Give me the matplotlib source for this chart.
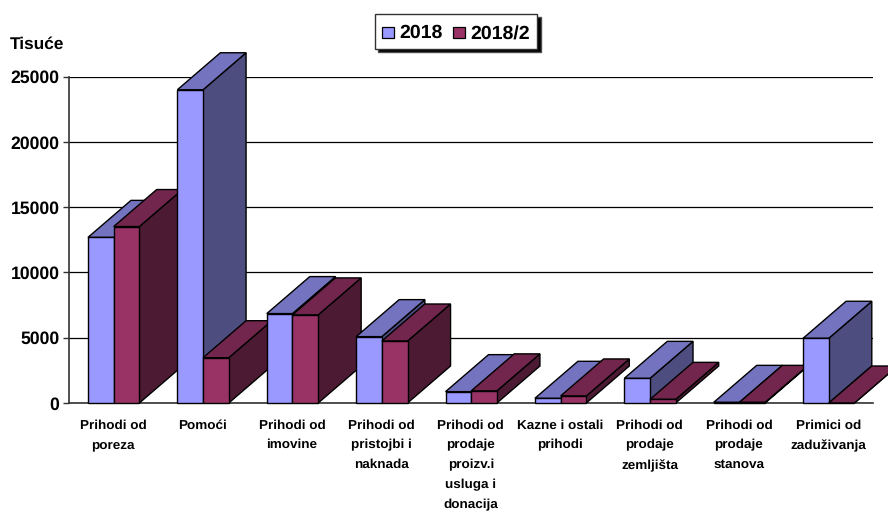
import matplotlib
matplotlib.use("Agg")
import matplotlib.pyplot as plt
from matplotlib.patches import Polygon, Patch, Rectangle
from matplotlib.legend_handler import HandlerPatch

categories = ["Prihodi od\nporeza", "Pomoći", "Prihodi od\nimovine", "Prihodi od\npristojbi i\nnaknada",
              "Prihodi od\nprodaje\nproizv.i\nusluga i\ndonacija", "Kazne i ostali\nprihodi",
              "Prihodi od\nprodaje\nzemljišta", "Prihodi od\nprodaje\nstanova", "Primici od\nzaduživanja"]
values_2018 = [12690, 24000, 6850, 5085, 870, 360, 1890, 50, 4960]
values_2018_2 = [13520, 3470, 6750, 4750, 930, 540, 280, 50, 0]
y_ticks = [0, 5000, 10000, 15000, 20000, 25000]
series_names = ["2018", "2018/2"]

W, H = 888, 511
plt.rcParams["font.family"] = ["Liberation Sans", "DejaVu Sans"]
plt.rcParams["font.weight"] = "bold"
plt.rcParams["text.hinting"] = "no_hinting"
fig = plt.figure(figsize=(W / 100, H / 100), dpi=100, facecolor="white")
L, R, T, B = 68.5, 873, 76.7, 403
ax = fig.add_axes([L / W, 1 - B / H, (R - L) / W, (B - T) / H])
ax.set_xlim(0, 9)
ax.set_ylim(0, 25000)

BAR_W = 0.2875
OFFSET = 0.218
DX = 43 / ((R - L) / 9)
DY = 37 / ((B - T) / 25000)
EDGE = "black"
LW = 1.0
styles = [("#9999FF", "#7373BF", "#4D4D80"), ("#993366", "#73264D", "#4D1A33")]

z = 3
for i in range(len(categories)):
    for s, vals in enumerate([values_2018, values_2018_2]):
        front, top, side = styles[s]
        x0 = i + OFFSET + s * BAR_W
        x1 = x0 + BAR_W
        v = vals[i]
        ax.add_patch(Polygon([(x1, 0), (x1 + DX, DY), (x1 + DX, v + DY), (x1, v)], closed=True,
                             facecolor=side, edgecolor=EDGE, lw=LW, zorder=z, clip_on=False))
        ax.add_patch(Polygon([(x0, v), (x0 + DX, v + DY), (x1 + DX, v + DY), (x1, v)], closed=True,
                             facecolor=top, edgecolor=EDGE, lw=LW, zorder=z, clip_on=False))
        ax.bar(x0, v, width=BAR_W, align="edge", facecolor=front, edgecolor=EDGE, lw=LW, zorder=z + 0.5, clip_on=False)
        z += 1

for sp in ["top", "right"]:
    ax.spines[sp].set_visible(False)
for sp in ["left", "bottom"]:
    ax.spines[sp].set_color("#333333")
    ax.spines[sp].set_linewidth(1.2)
    ax.spines[sp].set_zorder(2)

ax.set_yticks(y_ticks)
ax.set_yticklabels([str(t) for t in y_ticks], fontsize=12.7, fontweight="bold")
ax.tick_params(axis="y", length=4, width=1, color="#333333", pad=2.5)
ax.yaxis.grid(True, color="black", lw=0.9, zorder=1)
ax.set_axisbelow(True)
ax.set_xticks([i + 0.5 for i in range(len(categories))])
ax.set_xticklabels(categories, fontsize=9.7, fontweight="bold", linespacing=1.83, va="top", ha="center")
ax.tick_params(axis="x", length=0, pad=11.5)

fig.text(10 / W, 1 - 44 / H, "Tisuće", fontsize=12.4, fontweight="bold", ha="left", va="center")


def swatch(legend, orig_handle, xdescent, ydescent, width, height, fontsize):
    side_len = width
    return Rectangle((-xdescent, -ydescent + (height - side_len) / 2 - 0.8), side_len, side_len)


handles = [Patch(facecolor=styles[k][0], edgecolor="black", lw=0.9) for k in range(2)]
leg = fig.legend(handles, series_names, ncols=2, loc="upper left",
                 bbox_to_anchor=(375 / W, 1 - 14 / H), bbox_transform=fig.transFigure,
                 prop={"size": 14, "weight": "bold"}, borderaxespad=0, borderpad=0.36,
                 handlelength=0.6, handleheight=1.25, handletextpad=0.29, columnspacing=0.55,
                 handler_map={Patch: HandlerPatch(patch_func=swatch)},
                 fancybox=False, framealpha=1, edgecolor="#333333", facecolor="white",
                 shadow={"ox": 2.4, "oy": -2.4, "facecolor": "black", "alpha": 1})
leg.get_frame().set_linewidth(1.0)
leg.get_texts()[1].set_y(-2)

fig.savefig("out.png", dpi=100, facecolor="white")
